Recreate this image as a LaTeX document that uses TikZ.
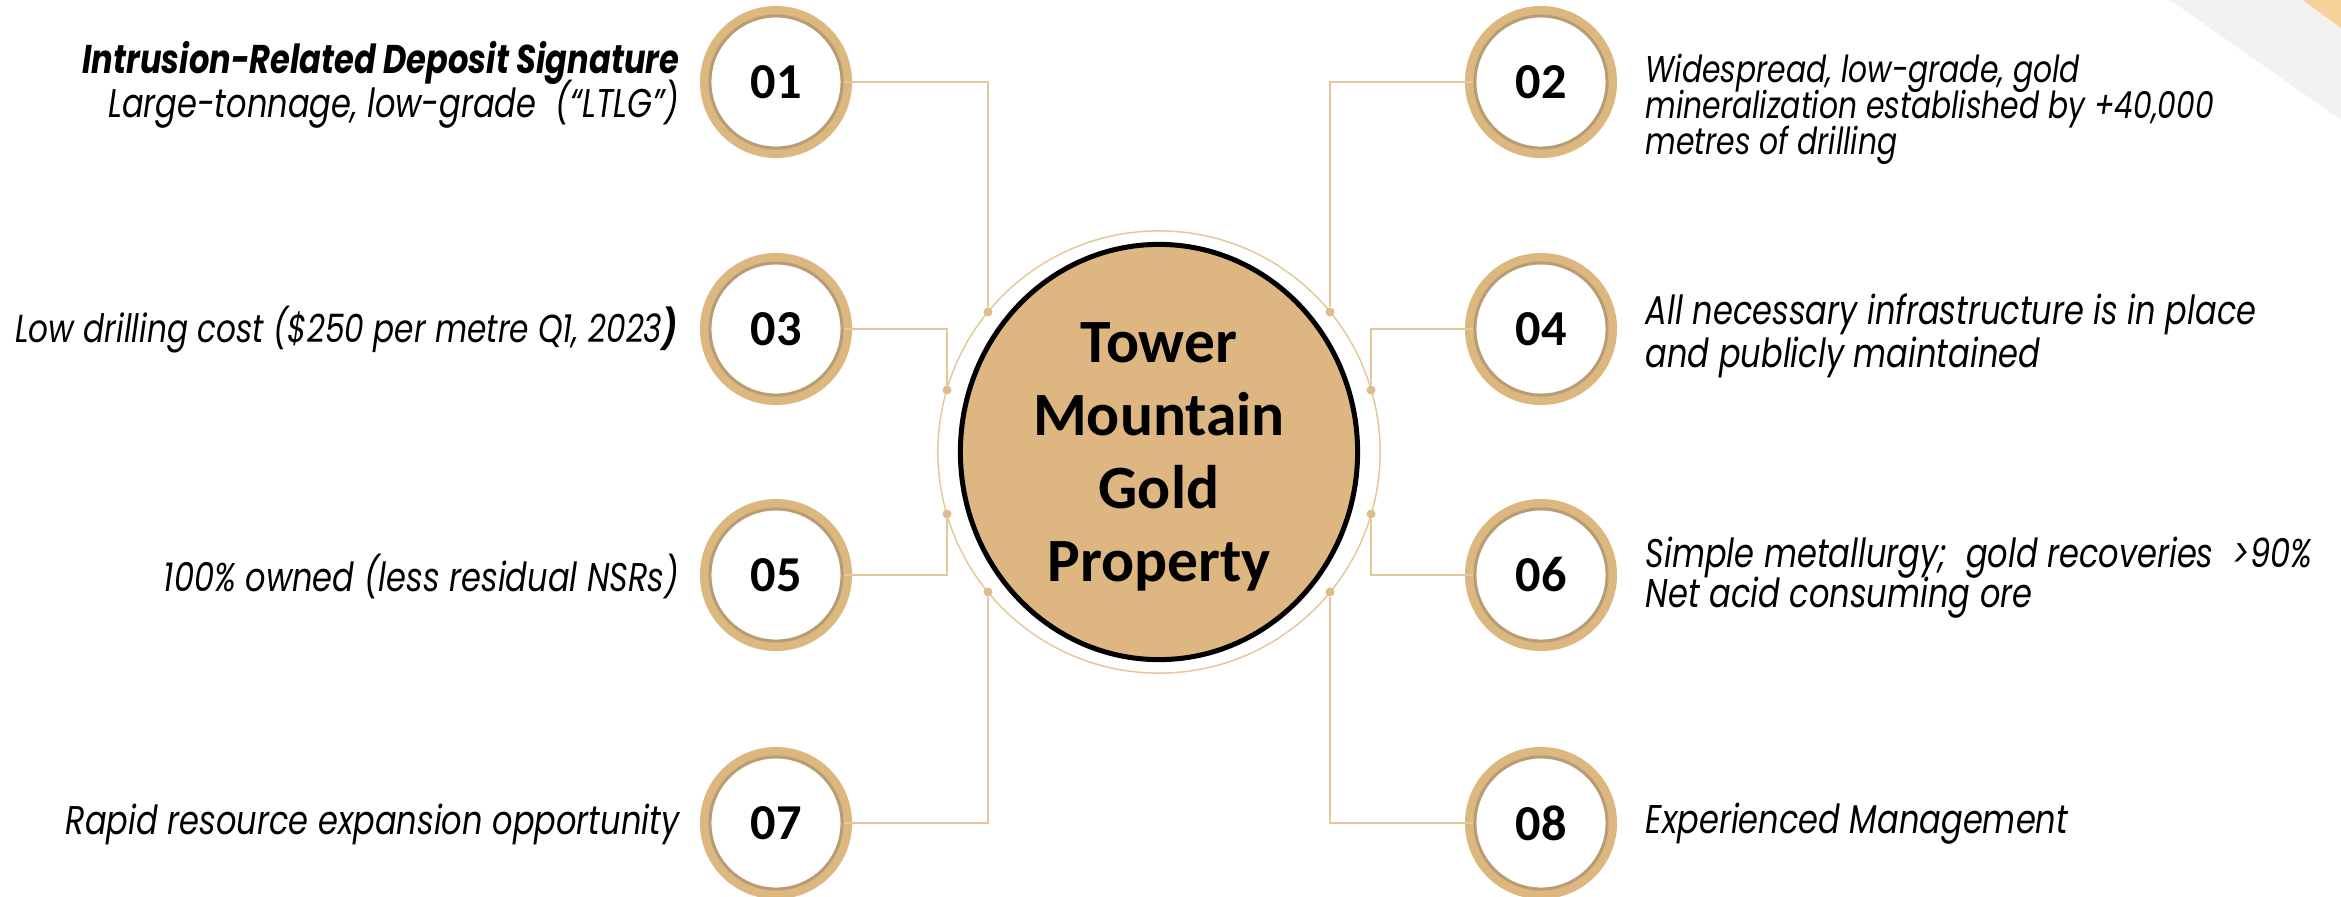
\documentclass[tikz,border=0pt]{standalone}
\usepackage{fontspec}
\usepackage{xcolor}
\usepackage{tikz}
\usetikzlibrary{shapes.geometric,positioning}
\newfontfamily\descfont[FakeStretch=0.80]{Poppins}
\newfontfamily\numfont{Carlito}
\definecolor{ringgold}{RGB}{221,183,128}
\definecolor{ringdark}{RGB}{184,157,116}
\definecolor{hubfill}{RGB}{221,182,129}
\definecolor{linegold}{RGB}{228,200,156}
\definecolor{dotgold}{RGB}{222,189,141}
\definecolor{bandgray}{RGB}{242,242,242}
\definecolor{bandorange}{RGB}{245,210,154}

\begin{document}
\lineskiplimit=-20pt
\begin{tikzpicture}[
    x=0.01cm, y=-0.01cm,
    numring/.style={circle, minimum size=1.32cm, inner sep=0pt, fill=white, draw=ringdark, line width=0.03cm,
        preaction={draw=ringgold, line width=0.2cm}, font=\numfont\bfseries\fontsize{14.3}{14.3}\selectfont},
    hub/.style={ellipse, minimum width=3.97cm, minimum height=4.15cm, inner sep=0pt, draw=black, line width=0.05cm,
        fill=hubfill, align=center, text depth=0pt, font=\numfont\bfseries\fontsize{17.5}{20.8}\selectfont},
    dot/.style={circle, fill=dotgold, minimum size=0.09cm, inner sep=0pt},
    link/.style={draw=linegold, line width=0.015cm},
    desc/.style={inner sep=0pt, font=\descfont\itshape\fontsize{11.4}{12.2}\selectfont}
]
\useasboundingbox (0,0) rectangle (2341,896);

% corner band
\fill[bandgray] (2170,0) -- (2341,0) -- (2341,120) -- cycle;
\fill[bandorange] (2303,0) -- (2341,0) -- (2341,28) -- cycle;

% centre
\node[hub] (hub) at (1159,452) {Tower\\Mountain\\Gold\\Property};
\draw[linegold, line width=0.015cm] (hub.center) circle (2.21cm);

% dots on the ring
\node[dot] (d1) at (988,312) {};
\node[dot] (d2) at (1330,312) {};
\node[dot] (d3) at (947,390) {};
\node[dot] (d4) at (1371,390) {};
\node[dot] (d5) at (947,514) {};
\node[dot] (d6) at (1371,514) {};
\node[dot] (d7) at (988,592) {};
\node[dot] (d8) at (1330,592) {};

% numbered circles
\node[numring] (n01) at (776,82) {01};
\node[numring] (n02) at (1541,82) {02};
\node[numring] (n03) at (776,329) {03};
\node[numring] (n04) at (1541,329) {04};
\node[numring] (n05) at (776,575) {05};
\node[numring] (n06) at (1541,575) {06};
\node[numring] (n07) at (776,823) {07};
\node[numring] (n08) at (1541,823) {08};

\draw[link] (n01) -| (d1);
\draw[link] (n02) -| (d2);
\draw[link] (n03) -| (d3);
\draw[link] (n04) -| (d4);
\draw[link] (n05) -| (d5);
\draw[link] (n06) -| (d6);
\draw[link] (n07) -| (d7);
\draw[link] (n08) -| (d8);

% descriptions
\node[desc, anchor=east, align=right, font=\descfont\itshape\fontsize{11.4}{12.5}\selectfont] (t01) at (680,85)
    {\textbf{Intrusion-Related Deposit Signature}\\Large-tonnage, low-grade\ \ (“LTLG”)};
\node[desc, anchor=west, align=left, font=\descfont\itshape\fontsize{10.6}{10.2}\selectfont] (t02) at (1645,109)
    {Widespread, low-grade, gold\\mineralization established by +40,000\\metres of drilling};
\node[desc, anchor=east, font=\descfont\itshape\fontsize{11.1}{12.2}\selectfont] (t03) at (678,330)
    {Low drilling cost (\$250 per metre Q1, 2023\textbf{)}};
\node[desc, anchor=west, align=left] (t04) at (1645,336)
    {All necessary infrastructure is in place\\and publicly maintained};
\node[desc, anchor=east] (t05) at (680,576) {100\% owned (less residual NSRs)};
\node[desc, anchor=west, align=left, font=\descfont\itshape\fontsize{11.4}{11.4}\selectfont] (t06) at (1645,578)
    {Simple metallurgy;\ \ gold recoveries\ \ >90\%\\Net acid consuming ore};
\node[desc, anchor=east] (t07) at (680,824) {Rapid resource expansion opportunity};
\node[desc, anchor=west] (t08) at (1645,824) {Experienced Management};
\end{tikzpicture}
\end{document}
